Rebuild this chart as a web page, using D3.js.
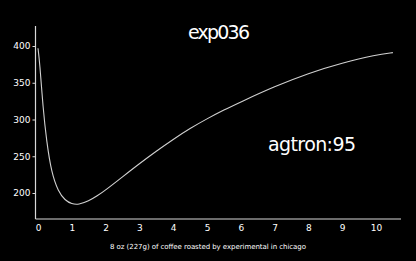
<!DOCTYPE html>
<html><head><meta charset="utf-8">
<script src="https://cdn.jsdelivr.net/npm/d3@7"></script>
<style>
html,body{margin:0;padding:0;background:#000;}
svg{display:block;}
text{font-family:"Humor Sans","Comic Sans MS","DejaVu Sans",sans-serif;fill:#fff;}
</style></head>
<body><svg id="c" width="416" height="261"></svg>
<script>
const title = "exp036";
const annotation = "agtron:95";
const footer = "8 oz (227g) of coffee roasted by experimental in chicago";
const timeMin = [0, 0.05, 0.15, 0.25, 0.4, 0.6, 0.8, 1.0, 1.2, 1.5, 1.75, 2, 2.5, 3, 3.5, 4, 4.5, 5, 5.5, 6, 7, 8, 9, 10, 10.5];
const tempF  = [397, 378, 315, 272, 227, 202, 190, 185, 184, 189, 196, 204, 222, 240, 257, 273, 288, 301, 313, 324, 345, 363, 377, 388, 391];
const xTicks = [0,1,2,3,4,5,6,7,8,9,10];
const yTicks = [200,250,300,350,400];

const svg = d3.select("#c");
const x = d3.scaleLinear().domain([0,10]).range([38,376]);
const y = d3.scaleLinear().domain([200,400]).range([193,46]);
const axisColor = "#d8d8d8";

// x axis
const gx = svg.append("g").attr("transform","translate(0,219)")
  .call(d3.axisBottom(x).tickValues(xTicks).tickSize(0).tickPadding(6).tickFormat(d3.format("d")));
gx.select(".domain").attr("d","M35.5,0H401").attr("stroke",axisColor).attr("stroke-width",1.2);
gx.selectAll("text").attr("font-size",9).style("fill","#fff");

// y axis
const gy = svg.append("g").attr("transform","translate(35.5,0)")
  .call(d3.axisLeft(y).tickValues(yTicks).tickSize(3).tickPadding(2).tickFormat(d3.format("d")));
gy.select(".domain").attr("d","M0,26V219").attr("stroke",axisColor).attr("stroke-width",1.2);
gy.selectAll(".tick line").attr("stroke",axisColor);
gy.selectAll("text").attr("font-size",9).style("fill","#fff");

// curve
const line = d3.line().x((d,i)=>x(timeMin[i])).y(d=>y(d)).curve(d3.curveBasis);
svg.append("path").datum(tempF).attr("d",line)
  .attr("fill","none").attr("stroke","#d0d0d0").attr("stroke-width",1.1);

// texts
svg.append("text").attr("x",219).attr("y",39).attr("text-anchor","middle")
  .attr("font-size",19).attr("textLength",62).text(title);
svg.append("text").attr("x",312).attr("y",151).attr("text-anchor","middle")
  .attr("font-size",19).attr("textLength",88).text(annotation);
svg.append("text").attr("x",208).attr("y",249).attr("text-anchor","middle")
  .attr("font-size",7).attr("textLength",196).text(footer);
</script></body></html>
